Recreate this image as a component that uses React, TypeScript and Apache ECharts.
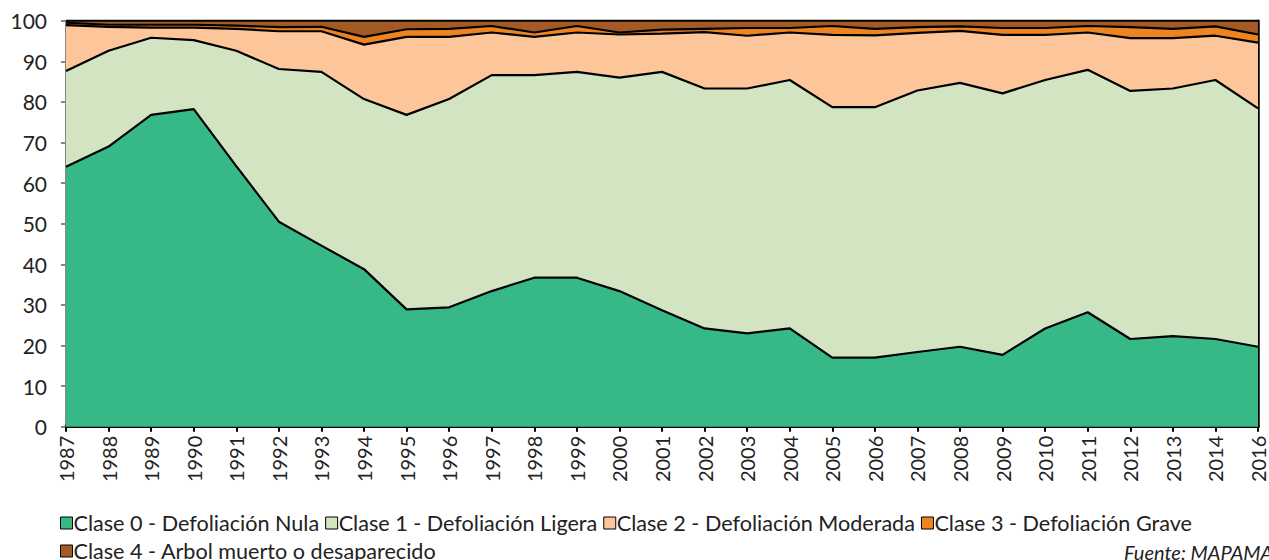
import React, { useEffect, useRef } from "react";
import * as echarts from "echarts";

const years = [
  "1987", "1988", "1989", "1990", "1991", "1992", "1993", "1994", "1995", "1996",
  "1997", "1998", "1999", "2000", "2001", "2002", "2003", "2004", "2005", "2006",
  "2007", "2008", "2009", "2010", "2011", "2012", "2013", "2014", "2016",
];

const clase0 = [
  64.0, 69.0, 76.8, 78.2, 64.2, 50.5, 44.6, 38.8, 28.9, 29.4,
  33.4, 36.7, 36.7, 33.4, 28.7, 24.2, 23.0, 24.2, 17.0, 17.0,
  18.4, 19.7, 17.7, 24.2, 28.2, 21.6, 22.3, 21.6, 19.7,
];
const clase1 = [
  23.6, 23.6, 19.0, 17.0, 28.4, 37.6, 42.8, 41.9, 47.9, 51.3,
  53.2, 49.9, 50.7, 52.6, 58.7, 59.1, 60.3, 61.2, 61.7, 61.7,
  64.4, 65.0, 64.4, 61.2, 59.7, 61.1, 61.0, 63.8, 58.7,
];
const clase2 = [
  11.3, 5.9, 2.5, 3.1, 5.4, 9.3, 10.0, 13.4, 19.2, 15.3,
  10.5, 9.4, 9.7, 10.6, 9.4, 13.9, 13.0, 11.7, 17.8, 17.7,
  14.2, 12.8, 14.4, 11.1, 9.2, 13.0, 12.4, 10.9, 16.2,
];
const clase3 = [
  0.6, 0.5, 0.7, 0.7, 0.8, 1.0, 1.1, 1.9, 1.9, 2.0,
  1.6, 1.1, 1.6, 0.5, 1.0, 0.8, 1.9, 1.1, 2.2, 1.6,
  1.4, 1.1, 1.7, 1.7, 1.6, 2.7, 2.3, 2.3, 2.0,
];
const clase4 = [
  0.5, 1.0, 1.0, 1.0, 1.2, 1.6, 1.5, 4.0, 2.1, 2.0,
  1.3, 2.9, 1.3, 2.9, 2.2, 2.0, 1.8, 1.8, 1.3, 2.0,
  1.6, 1.4, 1.8, 1.8, 1.3, 1.6, 2.0, 1.4, 3.4,
];

const seriesNames = [
  "Clase 0 - Defoliación Nula",
  "Clase 1 - Defoliación Ligera",
  "Clase 2 - Defoliación Moderada",
  "Clase 3 - Defoliación Grave",
  "Clase 4 - Arbol muerto o desaparecido",
];
const seriesData = [clase0, clase1, clase2, clase3, clase4];
const colors = ["#37b987", "#d3e4c3", "#fdc69a", "#ee8421", "#a35a24"];

const FONT = "Lato, 'Open Sans', sans-serif";

export default function App() {
  const ref = useRef<HTMLDivElement>(null);

  useEffect(() => {
    const chart = echarts.init(ref.current!, null, { renderer: "svg" });
    chart.setOption({
      animation: false,
      backgroundColor: "#ffffff",
      grid: { left: 66, right: 11, top: 20.7, bottom: 133.3 },
      legend: {
        data: seriesNames,
        icon: "rect",
        itemWidth: 12,
        itemHeight: 12,
        itemGap: 6,
        left: 60,
        top: 512,
        width: 1190,
        padding: 0,
        textStyle: {
          fontSize: 21.6,
          fontFamily: FONT,
          color: "#222",
          padding: [0, 0, 0, -4],
          lineHeight: 20,
        },
        itemStyle: { borderColor: "#000", borderWidth: 1 },
      },
      xAxis: {
        type: "category",
        data: years,
        boundaryGap: false,
        axisLine: { lineStyle: { color: "#000", width: 3 } },
        axisTick: { show: true, length: 5, alignWithLabel: true, lineStyle: { color: "#000", width: 2 } },
        axisLabel: {
          rotate: 90,
          interval: 0,
          margin: 9,
          fontSize: 20,
          fontFamily: FONT,
          color: "#222",
        },
        splitLine: { show: false },
      },
      yAxis: [
        {
          type: "value",
          min: 0,
          max: 100,
          interval: 10,
          axisLine: { show: true, lineStyle: { color: "#868686", width: 2 } },
          axisTick: { show: true, length: 5, lineStyle: { color: "#868686", width: 2 } },
          axisLabel: { margin: 19, fontSize: 21, fontFamily: FONT, color: "#222" },
          splitLine: { show: false },
        },
        {
          type: "value",
          position: "right",
          min: 0,
          max: 100,
          interval: 10,
          axisLine: { show: true, lineStyle: { color: "#000", width: 2.5 } },
          axisTick: { show: false },
          axisLabel: { show: false },
          splitLine: { show: false },
        },
      ],
      series: seriesNames.map((name, i) => ({
        name,
        type: "line",
        stack: "total",
        data: seriesData[i],
        symbol: "none",
        z: 10 - i,
        itemStyle: { color: colors[i] },
        lineStyle: { color: "#000", width: 2.2 },
        areaStyle: { color: colors[i], opacity: 1 },
        emphasis: { disabled: true },
      })),
      graphic: [
        {
          type: "text",
          left: 1124,
          top: 542,
          style: {
            text: "Fuente: MAPAMA",
            fontSize: 20,
            fontStyle: "italic",
            fontFamily: FONT,
            fill: "#222",
          },
        },
      ],
    });
    return () => chart.dispose();
  }, []);

  return (
    <div
      ref={ref}
      style={{ position: "fixed", left: 0, top: 0, width: 1269, height: 560 }}
    />
  );
}
